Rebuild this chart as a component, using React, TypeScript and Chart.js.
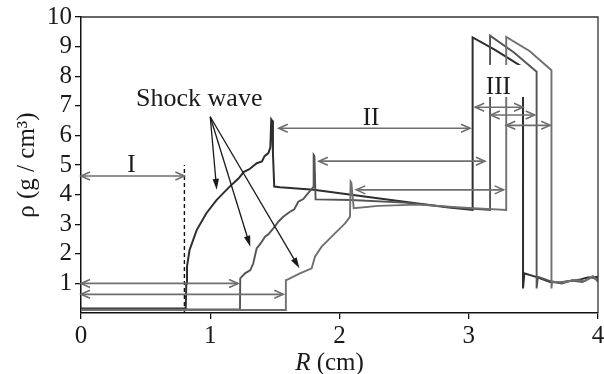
import React, { useEffect, useRef } from "react";
import { Chart, registerables } from "chart.js";

Chart.register(...registerables);

// ---- data (R in cm, rho in g/cm^3) ----
const darkR = [0, 0.81, 0.815, 0.82, 0.84, 0.895, 0.97, 1.05, 1.15, 1.22, 1.26, 1.3, 1.36, 1.4, 1.42, 1.45, 1.465, 1.472, 1.478, 1.485, 1.495, 1.54, 1.8, 2.31, 2.83, 3.03, 3.03, 3.2, 3.42, 3.42, 3.43, 3.52, 3.63, 3.7, 3.78, 3.85, 3.92, 4.0];
const darkRho = [0.15, 0.15, 1.0, 1.57, 2.13, 2.8, 3.37, 3.82, 4.27, 4.55, 4.77, 4.85, 5.06, 5.12, 5.3, 5.4, 5.6, 6.54, 6.5, 5.4, 4.27, 4.25, 4.16, 3.87, 3.57, 3.48, 9.31, 8.9, 8.3, 0.83, 1.34, 1.22, 1.05, 1.03, 1.08, 1.12, 1.2, 1.22];

const midR = [0, 1.23, 1.232, 1.269, 1.31, 1.333, 1.359, 1.39, 1.424, 1.45, 1.488, 1.53, 1.565, 1.617, 1.65, 1.681, 1.72, 1.746, 1.797, 1.8, 1.806, 1.815, 2.09, 2.5, 2.9, 3.165, 3.165, 3.35, 3.525, 3.525, 3.535, 3.63, 3.72, 3.8, 3.88, 3.95, 4.0];
const midRho = [0.12, 0.12, 1.17, 1.34, 1.45, 1.68, 2.18, 2.35, 2.58, 2.66, 2.86, 3.1, 3.25, 3.42, 3.5, 3.76, 3.85, 3.99, 4.25, 5.34, 5.3, 3.84, 3.82, 3.73, 3.56, 3.48, 9.37, 8.8, 8.15, 0.83, 1.22, 1.08, 1.0, 1.1, 1.05, 1.2, 1.12];

const lightR = [0, 1.58, 1.585, 1.59, 1.694, 1.785, 1.81, 1.862, 1.926, 1.99, 2.043, 2.081, 2.086, 2.092, 2.11, 2.3, 2.6, 3.0, 3.29, 3.29, 3.47, 3.64, 3.64, 3.645, 3.73, 3.82, 3.9, 3.96, 4.0];
const lightRho = [0.1, 0.1, 1.11, 1.11, 1.34, 1.51, 1.9, 2.24, 2.52, 2.8, 3.03, 3.25, 4.44, 4.4, 3.54, 3.62, 3.66, 3.55, 3.48, 9.33, 8.85, 8.2, 0.83, 1.06, 1.04, 1.12, 1.08, 1.25, 1.05];

const dashR = [0.8, 0.8];
const dashRho = [0, 5.0];

// double-headed span arrows
const spanRho = [4.63, 1.0, 0.63, 6.24, 5.13, 4.16, 6.95, 6.69, 6.34];
const spanFrom = [0, 0, 0, 1.53, 1.84, 2.13, 3.05, 3.17, 3.29];
const spanTo = [0.8, 1.215, 1.565, 3.01, 3.125, 3.27, 3.42, 3.51, 3.63];

// shock wave pointers
const shockFromR = 1.0;
const shockFromRho = 6.63;
const shockTipR = [1.05, 1.31, 1.69];
const shockTipRho = [4.16, 2.24, 1.51];

// text labels
const labelText = ["Shock wave", "I", "II", "III"];
const labelR = [0.426, 0.39, 2.244, 3.229];
const labelRho = [7.0, 4.76, 6.35, 7.4];
const labelAlign = ["left", "center", "center", "center"];

const xTicks = [0, 1, 2, 3, 4];
const yTicks = [1, 2, 3, 4, 5, 6, 7, 8, 9, 10];

const SERIF = "'Liberation Serif', 'Times New Roman', serif";

const toPts = (xs: number[], ys: number[]) => xs.map((x, i) => ({ x, y: ys[i] }));

const annotPlugin = {
  id: "annot",
  afterDatasetsDraw(chart: any) {
    const { ctx, chartArea } = chart;
    const xs = chart.scales.x;
    const ys = chart.scales.y;
    const px = (v: number) => xs.getPixelForValue(v);
    const py = (v: number) => ys.getPixelForValue(v);
    ctx.save();

    // frame top/right
    ctx.strokeStyle = "#333";
    ctx.lineWidth = 1.3;
    ctx.beginPath();
    ctx.moveTo(chartArea.left, chartArea.top);
    ctx.lineTo(chartArea.right, chartArea.top);
    ctx.lineTo(chartArea.right, chartArea.bottom);
    ctx.stroke();

    // white box behind "III"
    ctx.font = `25px ${SERIF}`;
    {
      const i = 3;
      const w = ctx.measureText(labelText[i]).width;
      const cx = px(labelR[i]);
      const by = py(labelRho[i]);
      ctx.fillStyle = "#fff";
      ctx.fillRect(cx - w / 2 - 4, by - 29, w + 20, 32);
    }

    // span arrows
    ctx.strokeStyle = "#6e6e6e";
    ctx.lineWidth = 1.6;
    const head = (x: number, y: number, dir: number) => {
      ctx.beginPath();
      ctx.moveTo(x + dir * 9, y - 4);
      ctx.lineTo(x, y);
      ctx.lineTo(x + dir * 9, y + 4);
      ctx.stroke();
    };
    spanRho.forEach((r, i) => {
      const x0 = px(spanFrom[i]);
      const x1 = px(spanTo[i]);
      const y = py(r);
      ctx.beginPath();
      ctx.moveTo(x0, y);
      ctx.lineTo(x1, y);
      ctx.stroke();
      head(x0, y, 1);
      head(x1, y, -1);
    });

    // shock wave arrows
    ctx.strokeStyle = "#1a1a1a";
    ctx.fillStyle = "#1a1a1a";
    ctx.lineWidth = 1.3;
    const sx = px(shockFromR);
    const sy = py(shockFromRho);
    shockTipR.forEach((r, i) => {
      const tx = px(r);
      const ty = py(shockTipRho[i]);
      const ang = Math.atan2(ty - sy, tx - sx);
      ctx.beginPath();
      ctx.moveTo(sx, sy);
      ctx.lineTo(tx - Math.cos(ang) * 6, ty - Math.sin(ang) * 6);
      ctx.stroke();
      const L = 11, W = 3.2;
      const bx = tx - Math.cos(ang) * L;
      const by = ty - Math.sin(ang) * L;
      ctx.beginPath();
      ctx.moveTo(tx, ty);
      ctx.lineTo(bx + Math.sin(ang) * W, by - Math.cos(ang) * W);
      ctx.lineTo(bx - Math.sin(ang) * W, by + Math.cos(ang) * W);
      ctx.closePath();
      ctx.fill();
    });

    // labels
    ctx.fillStyle = "#1a1a1a";
    ctx.textBaseline = "alphabetic";
    labelText.forEach((t, i) => {
      ctx.font = i === 0 ? `26px ${SERIF}` : `25px ${SERIF}`;
      ctx.textAlign = labelAlign[i] as CanvasTextAlign;
      ctx.fillText(t, px(labelR[i]), py(labelRho[i]));
    });

    // x axis title: italic R + " (cm)"
    ctx.textAlign = "left";
    ctx.font = `italic 25px ${SERIF}`;
    const wR = ctx.measureText("R").width;
    ctx.font = `25px ${SERIF}`;
    const wRest = ctx.measureText(" (cm)").width;
    const cx = (chartArea.left + chartArea.right) / 2 - 10;
    const startX = cx - (wR + wRest) / 2;
    const baseY = chart.height - 4;
    ctx.font = `italic 25px ${SERIF}`;
    ctx.fillText("R", startX, baseY);
    ctx.font = `25px ${SERIF}`;
    ctx.fillText(" (cm)", startX + wR, baseY);

    ctx.restore();
  },
};

export default function App() {
  const ref = useRef<HTMLCanvasElement | null>(null);

  useEffect(() => {
    if (!ref.current) return;
    const line = (xs: number[], ys: number[], color: string, width: number, dash: number[] = []) => ({
      data: toPts(xs, ys),
      borderColor: color,
      borderWidth: width,
      borderDash: dash,
      pointRadius: 0,
      fill: false,
      tension: 0,
      showLine: true,
    });
    const chart = new Chart(ref.current, {
      type: "line",
      data: {
        datasets: [
          line(lightR, lightRho, "#707070", 1.9),
          line(midR, midRho, "#545454", 1.9),
          line(darkR, darkRho, "#2e2e2e", 2),
          line(dashR, dashRho, "#111", 1.4, [4, 3]),
        ] as any,
      },
      options: {
        animation: false,
        responsive: false,
        events: [],
        layout: { padding: { left: 0, top: 17, right: 6, bottom: 0 } },
        plugins: { legend: { display: false }, tooltip: { enabled: false } },
        scales: {
          x: {
            type: "linear",
            min: 0,
            max: 4,
            afterBuildTicks: (s: any) => {
              s.ticks = xTicks.map((v) => ({ value: v }));
            },
            afterFit: (s: any) => {
              s.height = 61;
              s.paddingLeft = 0;
              s.paddingRight = 0;
            },
            grid: { display: true, drawOnChartArea: false, drawTicks: true, tickLength: 6, color: "#111", lineWidth: 1.3 },
            border: { display: true, color: "#111", width: 1.5 },
            ticks: { color: "#1a1a1a", font: { family: SERIF, size: 25 }, padding: 2, maxRotation: 0, autoSkip: false },
          },
          y: {
            type: "linear",
            min: 0,
            max: 10,
            afterBuildTicks: (s: any) => {
              s.ticks = yTicks.map((v) => ({ value: v }));
            },
            afterFit: (s: any) => {
              s.width = 81;
              s.paddingTop = 0;
              s.paddingBottom = 0;
            },
            grid: { display: true, drawOnChartArea: false, drawTicks: true, tickLength: 6, color: "#111", lineWidth: 1.3 },
            border: { display: true, color: "#111", width: 1.5 },
            ticks: { color: "#1a1a1a", font: { family: SERIF, size: 25 }, padding: 3, autoSkip: false },
            title: {
              display: true,
              text: "ρ (g / cm³)",
              color: "#1a1a1a",
              font: { family: SERIF, size: 25 },
              padding: { top: 12, bottom: 0 },
            },
          },
        },
      } as any,
      plugins: [annotPlugin],
    });
    return () => chart.destroy();
  }, []);

  return (
    <div style={{ position: "absolute", left: 0, top: 0, width: 604, height: 374, background: "#fff" }}>
      <canvas ref={ref} width={604} height={374} style={{ display: "block" }} />
    </div>
  );
}
